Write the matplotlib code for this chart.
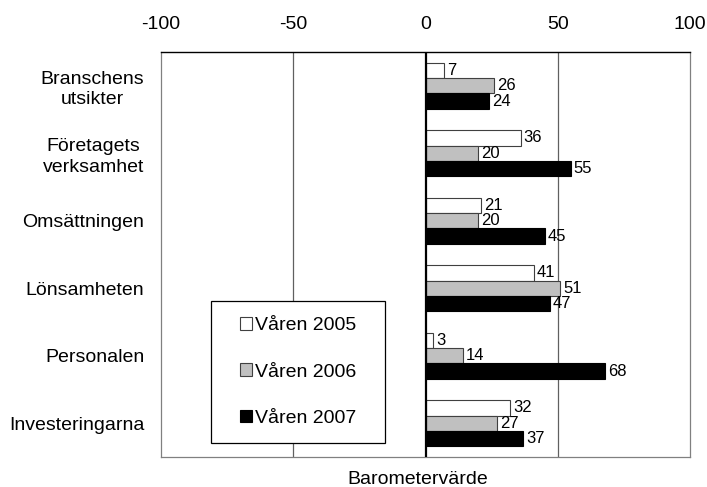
import matplotlib
matplotlib.use("Agg")
import matplotlib.pyplot as plt
from matplotlib.patches import Rectangle
import numpy as np

plt.rcParams['font.family'] = ['Liberation Sans', 'DejaVu Sans']

categories = ["Branschens\nutsikter", "Företagets\nverksamhet", "Omsättningen",
              "Lönsamheten", "Personalen", "Investeringarna"]
series_names = ["Våren 2005", "Våren 2006", "Våren 2007"]
v2005 = [7, 36, 21, 41, 3, 32]
v2006 = [26, 20, 20, 51, 14, 27]
v2007 = [24, 55, 45, 47, 68, 37]
xticks = [-100, -50, 0, 50, 100]

colors = ["white", "#c0c0c0", "black"]

W, H = 707, 487
fig = plt.figure(figsize=(W/100, H/100), dpi=100)
ax = fig.add_axes([161/W, 1-457/H, (690-161)/W, (457-52)/H])

n = len(categories)
ypos = np.arange(n)[::-1].astype(float)
h = 0.227
offsets = [h, 0, -h]
for vals, col, off, name in zip([v2005, v2006, v2007], colors, offsets, series_names):
    bars = ax.barh(ypos + off, vals, height=h, color=col,
                   edgecolor="#404040" if col != "black" else "black",
                   linewidth=0.8, label=name, zorder=3)
    for b, v in zip(bars, vals):
        ax.annotate(str(v), (v, b.get_y() + b.get_height()/2), xytext=(2, 0),
                    textcoords="offset points", va="center", ha="left",
                    fontsize=12, zorder=4)

ax.set_xlim(-100, 100)
ax.set_ylim(-0.5, 5.5)
ax.set_yticks(ypos)
ax.set_yticklabels(categories, fontsize=14, multialignment="center", linespacing=1.25)
ax.tick_params(axis="y", length=0, pad=12)
ax.xaxis.tick_top()
ax.set_xticks(xticks)
ax.set_xticklabels([str(t) for t in xticks], fontsize=14)
ax.tick_params(axis="x", length=0, pad=14)

for x in [-50, 50]:
    ax.axvline(x, color="#606060", lw=0.9, zorder=1)
ax.axvline(0, color="black", lw=1.6, zorder=5)

for s in ["left", "right", "bottom"]:
    ax.spines[s].set_color("#808080")
    ax.spines[s].set_linewidth(0.9)
ax.spines["top"].set_color("black")
ax.spines["top"].set_linewidth(1.0)

# legend frame
frame = Rectangle((211/W, 1-443/H), (385-211)/W, (443-301)/H, transform=fig.transFigure,
                  facecolor="white", edgecolor="black", linewidth=0.9, zorder=6)
fig.add_artist(frame)
leg = fig.legend(*ax.get_legend_handles_labels(), loc="center",
                 bbox_to_anchor=(298/W, 1-372/H), bbox_transform=fig.transFigure,
                 frameon=False, fontsize=14,
                 handlelength=0.6, handleheight=0.6, handletextpad=0.15, labelspacing=1.5)
leg.set_zorder(7)

fig.text(418/W, 1-480/H, "Barometervärde", ha="center", va="center", fontsize=14)

fig.savefig("out.png", dpi=100)
